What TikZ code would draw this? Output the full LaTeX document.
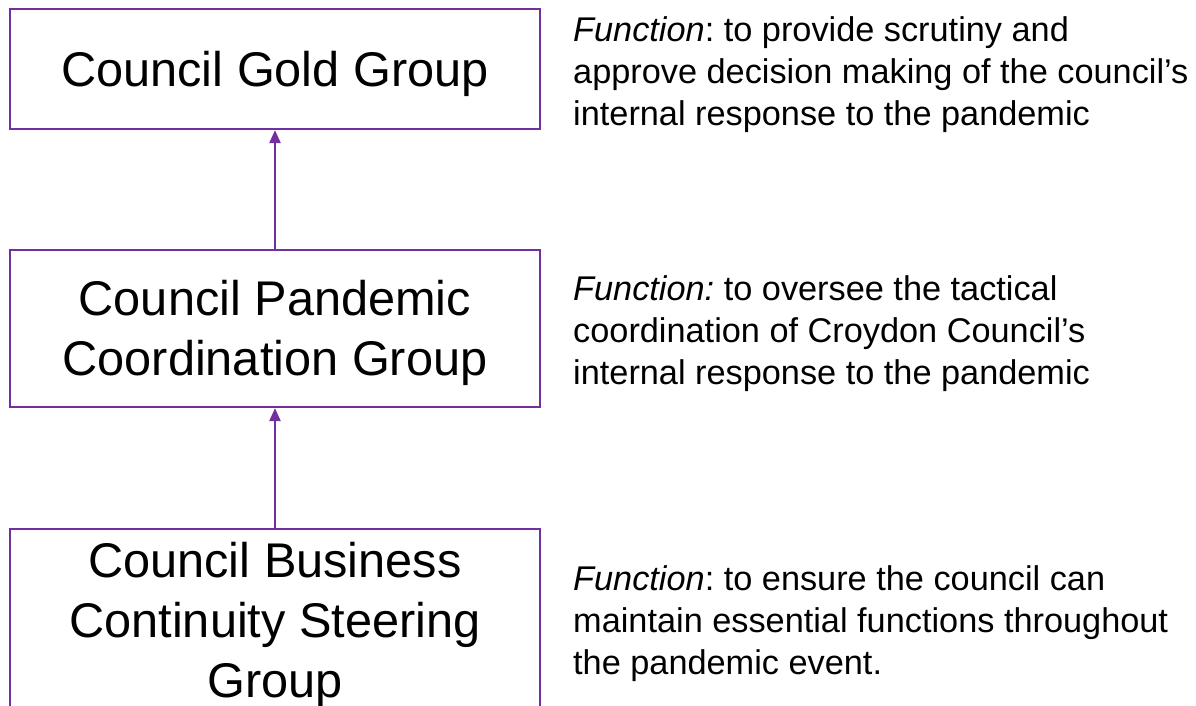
\documentclass[tikz,border=0pt]{standalone}
\usepackage{fontspec}
\setmainfont{Liberation Sans}
\usetikzlibrary{arrows.meta}
\definecolor{cpurple}{HTML}{7030A0}
\frenchspacing
\tikzset{
  groupbox/.style={draw=cpurple, line width=2.2pt, minimum width=530pt, inner sep=0pt},
  boxtext/.style={align=center, inner sep=0pt, font=\fontsize{48.7pt}{60pt}\selectfont},
  functext/.style={anchor=west, align=left, inner sep=0pt,
    font=\fontsize{34.3pt}{42pt}\selectfont},
  uparrow/.style={draw=cpurple, line width=2.2pt, -{Triangle[length=13pt,width=11pt]}}
}
\begin{document}
\begin{tikzpicture}[x=1pt,y=-1pt]
\useasboundingbox (0,0) rectangle (1196,706);
\clip (0,0) rectangle (1196,706);
\node[groupbox, minimum height=120pt] (gold) at (275,69) {};
\node[groupbox, minimum height=157pt] (pand) at (275,328.5) {};
\node[groupbox, minimum height=186pt] (bus) at (275,622) {};
\node[boxtext] (goldt) at ([yshift=-5pt]gold.center) {Council Gold Group};
\node[boxtext] (pandt) at ([yshift=-4pt]pand.center) {Council Pandemic\\Coordination Group};
\node[boxtext] (bust) at ([yshift=-3pt]bus.center) {Council Business\\Continuity Steering\\Group};
\draw[uparrow] (pand.north) -- (gold.south);
\draw[uparrow] (bus.north) -- (pand.south);
\node[functext] (f1) at (573,75) {{\itshape Function}: to provide scrutiny and\\approve decision making of the council’s\\internal response to the pandemic};
\node[functext] (f2) at (573,334) {{\itshape Function:} to oversee the tactical\\coordination of Croydon Council’s\\internal response to the pandemic};
\node[functext] (f3) at (573,624) {{\itshape Function}: to ensure the council can\\maintain essential functions throughout\\the pandemic event.};
\end{tikzpicture}
\end{document}
